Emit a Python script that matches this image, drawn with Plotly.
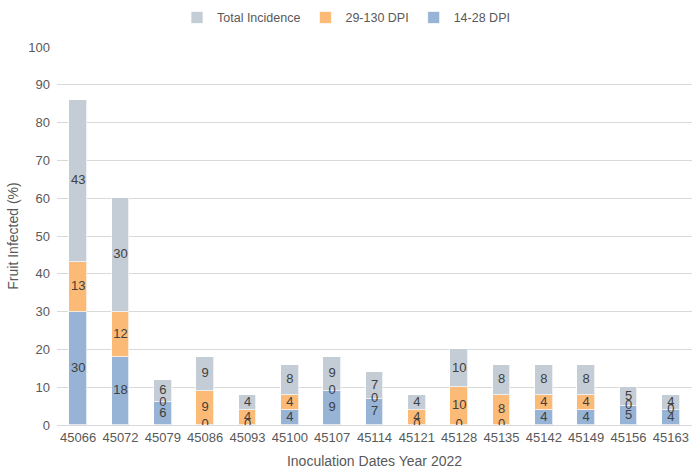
import plotly.graph_objects as go

dates = ["45066", "45072", "45079", "45086", "45093", "45100", "45107", "45114",
         "45121", "45128", "45135", "45142", "45149", "45156", "45163"]
dpi_14_28 = [30, 18, 6, 0, 0, 4, 9, 7, 0, 0, 0, 4, 4, 5, 4]
dpi_29_130 = [13, 12, 0, 9, 4, 4, 0, 0, 4, 10, 8, 4, 4, 0, 0]
total_incidence = [43, 30, 6, 9, 4, 8, 9, 7, 4, 10, 8, 8, 8, 5, 4]

series = [
    ("14-28 DPI", dpi_14_28, "#97b4d6"),
    ("29-130 DPI", dpi_29_130, "#fbba75"),
    ("Total Incidence", total_incidence, "#c4cdd6"),
]

FONT = "Liberation Sans, Arial, sans-serif"

fig = go.Figure()
base = [0] * len(dates)
for name, vals, color in series:
    fig.add_trace(go.Bar(
        x=dates, y=vals, name=name, width=0.41,
        marker=dict(color=color, line=dict(color="rgba(255,255,255,0.7)", width=1)),
        hoverinfo="y+name",
    ))
    # value labels centred in each segment (zero segments sit on the stack)
    fig.add_trace(go.Scatter(
        x=dates, y=[b + v / 2 for b, v in zip(base, vals)],
        text=[str(v) for v in vals], mode="text",
        textfont=dict(family=FONT, size=13, color="#404040"),
        showlegend=False, hoverinfo="skip",
    ))
    base = [b + v for b, v in zip(base, vals)]

fig.update_layout(
    barmode="stack",
    width=692, height=470,
    margin=dict(l=57, r=0, t=47, b=45),
    paper_bgcolor="white", plot_bgcolor="white",
    font=dict(family=FONT, size=13, color="#595959"),
    legend=dict(
        orientation="h", xref="container", yref="container",
        x=0.5, xanchor="center", y=0.962, yanchor="middle",
        traceorder="reversed", font=dict(size=12.5, color="#595959"),
        itemwidth=30,
    ),
    xaxis=dict(
        type="category", range=[-0.5, len(dates) - 0.5],
        showgrid=False, showline=True, linecolor="#d9d9d9", linewidth=1,
        ticks="", tickfont=dict(size=13, color="#595959"),
        title=dict(text="Inoculation Dates Year 2022", font=dict(size=14, color="#595959"), standoff=12),
    ),
    yaxis=dict(
        range=[0, 100], dtick=10, showgrid=True, gridcolor="#d9d9d9", gridwidth=1,
        zeroline=False, ticks="", tickfont=dict(size=13, color="#595959"),
        ticklabelstandoff=6,
        title=dict(text="Fruit Infected (%)", font=dict(size=14, color="#595959"), standoff=6),
    ),
    bargap=0,
)

fig.write_html("out.html")
